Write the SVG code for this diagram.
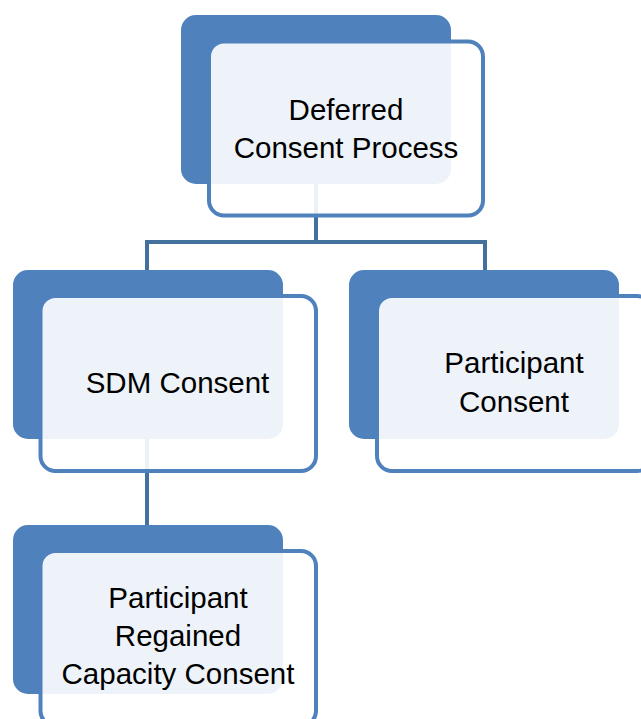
<svg xmlns="http://www.w3.org/2000/svg" width="641" height="719" viewBox="0 0 641 719">
<style>
.back{fill:#4F81BD}
.front{fill:#FFFFFF;fill-opacity:0.9;stroke:#4F81BD;stroke-width:4}
.conn{fill:none;stroke:#41719C;stroke-width:4}
text{font-family:"Liberation Sans",Arial,sans-serif;font-size:29.5px;fill:#000;text-anchor:middle}
</style>
<rect width="641" height="719" fill="#FFFFFF"/>
<g id="connectors">
<path class="conn" d="M316,184 V242 M147,242 H485 M147,240 V270 M485,240 V270"/>
<path class="conn" d="M147,439 V525"/>
</g>
<g id="deferred">
<rect class="back" x="181" y="15" width="270" height="169" rx="15"/>
<rect class="front" x="209" y="41.5" width="274" height="174" rx="15"/>
<text x="346" y="120">Deferred</text>
<text x="346" y="158">Consent Process</text>
</g>
<g id="sdm">
<rect class="back" x="13" y="270" width="270" height="169" rx="15"/>
<rect class="front" x="40.5" y="296" width="275.5" height="175" rx="15"/>
<text x="177.5" y="393">SDM Consent</text>
</g>
<g id="participant">
<rect class="back" x="349" y="270" width="270" height="169" rx="15"/>
<rect class="front" x="377" y="296" width="275" height="175" rx="15"/>
<text x="514" y="373">Participant</text>
<text x="514" y="412">Consent</text>
</g>
<g id="regained">
<rect class="back" x="13" y="525" width="270" height="169" rx="15"/>
<rect class="front" x="40.5" y="551" width="275.5" height="175" rx="15"/>
<text x="178" y="608">Participant</text>
<text x="178" y="646">Regained</text>
<text x="178" y="684">Capacity Consent</text>
</g>
</svg>
